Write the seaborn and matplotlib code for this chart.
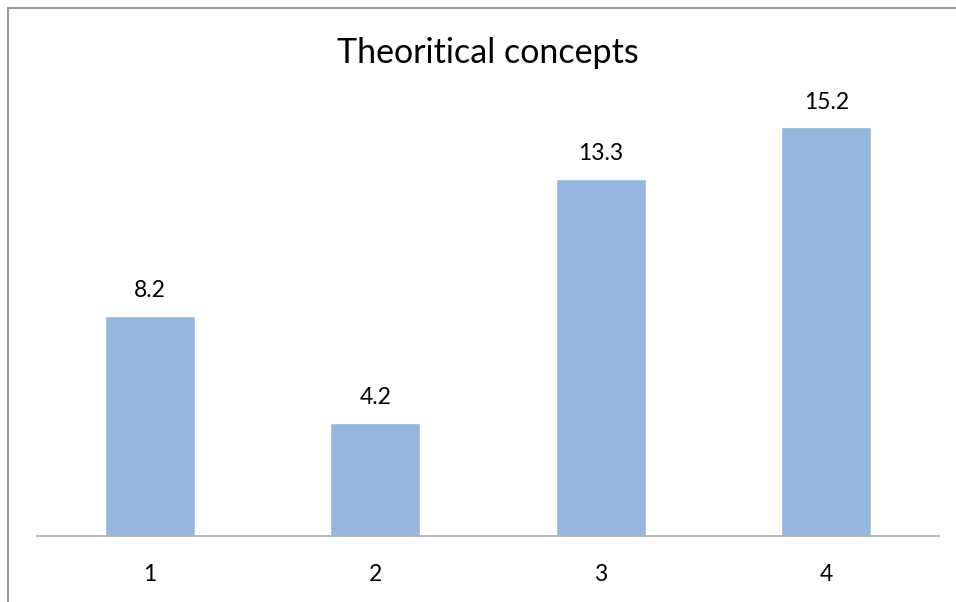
import pandas as pd
import seaborn as sns
import matplotlib.pyplot as plt
from matplotlib.patches import Rectangle

# Data
categories = ['1', '2', '3', '4']
values = [8.2, 4.2, 13.3, 15.2]
data = pd.DataFrame({'cat': categories, 'val': values})

sns.set_style('white')
plt.rcParams['font.family'] = ['Lato', 'DejaVu Sans']
plt.rcParams['text.color'] = 'black'

fig = plt.figure(figsize=(9.56, 6.02), dpi=100)
ax = fig.add_axes([37 / 956, 66 / 602, 902 / 956, 430 / 602])

sns.barplot(data=data, x='cat', y='val', color='#95B7DE', width=0.4,
            saturation=1, ax=ax)

ax.set_ylim(0, 16)
ax.set_xlim(-0.5, 3.5)
ax.set_xlabel('')
ax.set_ylabel('')
ax.set_yticks([])
ax.tick_params(axis='x', length=0, labelsize=16.5, pad=20, colors='black')
for side in ['top', 'right', 'left']:
    ax.spines[side].set_visible(False)
ax.spines['bottom'].set_color('#B0B0B0')
ax.spines['bottom'].set_linewidth(1.3)

# Value labels
for i, v in enumerate(values):
    ax.text(i, v + 0.7, f'{v}', ha='center', va='baseline', fontsize=16.5,
            color='black')

fig.text(488 / 956, 1 - 63 / 602, 'Theoritical concepts', ha='center',
         va='baseline', fontsize=24.5, color='black')

# Outer chart border (partly cut off, as in the reference)
fig.patches.append(Rectangle((7.5 / 956, -0.1), 1.2, 1 - 7.5 / 602 + 0.1,
                             transform=fig.transFigure, fill=False,
                             edgecolor='#9A9A9A', linewidth=1.5))

fig.savefig('out.png', dpi=100)
